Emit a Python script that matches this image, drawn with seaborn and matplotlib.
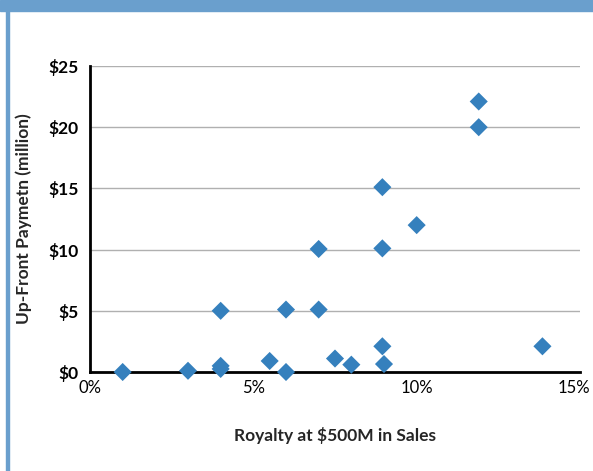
import matplotlib
matplotlib.use("Agg")
import matplotlib.pyplot as plt
import matplotlib.patches as patches
import matplotlib.transforms as mtransforms
import seaborn as sns
import pandas as pd

# royalty (%) vs up-front payment ($M)
royalty_pct = [1, 3, 4, 4, 4, 5.5, 6, 6, 7, 7, 7.5, 8, 8.95, 8.95, 8.95, 9, 10, 11.9, 11.9, 13.85]
upfront_musd = [0, 0.1, 5, 0.5, 0.25, 0.9, 5.1, 0, 10.05, 5.1, 1.1, 0.6, 15.1, 10.1, 2.1, 0.65, 12.0, 22.1, 20.0, 2.1]

y_ticks = [0, 5, 10, 15, 20, 25]
y_labels = ["$0", "$5", "$10", "$15", "$20", "$25"]
x_ticks = [0, 5, 10, 15]
x_labels = ["0%", "5%", "10%", "15%"]

df = pd.DataFrame({"royalty": royalty_pct, "upfront": upfront_musd})

sns.set_style("white")
plt.rcParams["font.family"] = ["Lato", "DejaVu Sans"]

fig = plt.figure(figsize=(5.93, 4.71), dpi=100)

# header band and left border
fig.patches.append(patches.Rectangle((0, 1 - 11 / 471), 1, 11 / 471, transform=fig.transFigure,
                                     color="#6a9fcd", zorder=0))
fig.patches.append(patches.Rectangle((6 / 593, 0), 3 / 593, 1, transform=fig.transFigure,
                                     color="#6a9fcd", zorder=0))

ax = fig.add_axes([90 / 593, 1 - 372 / 471, 490 / 593, 306 / 471])

sns.scatterplot(data=df, x="royalty", y="upfront", marker="D", s=85,
                color="#3580bd", edgecolor="none", ax=ax, zorder=3, clip_on=False)

ax.set_xlim(0, 15)
ax.set_ylim(0, 25)
ax.set_xticks(x_ticks)
ax.set_xticklabels(x_labels, fontsize=12)
ax.set_yticks(y_ticks)
ax.set_yticklabels(y_labels, fontsize=12.5, fontweight="bold")
ax.yaxis.grid(True, color="#b0b0b0", linewidth=1)
ax.set_axisbelow(True)

for s in ["top", "right"]:
    ax.spines[s].set_visible(False)
for s in ["left", "bottom"]:
    ax.spines[s].set_color("black")
    ax.spines[s].set_linewidth(2)
    ax.spines[s].set_zorder(2)

ax.tick_params(axis="both", length=5, width=1, color="#b0b0b0", colors="black")
ax.tick_params(axis="x", direction="out", pad=1)
ax.tick_params(axis="y", direction="out", pad=3)

# nudge the last x label left so it stays inside the figure
last = ax.get_xticklabels()[-1]
last.set_transform(last.get_transform() + mtransforms.ScaledTranslation(-6 / 100, 0, fig.dpi_scale_trans))

ax.set_xlabel("Royalty at $500M in Sales", fontsize=12.5, fontweight="bold", labelpad=22)
ax.set_ylabel("Up-Front Paymetn (million)", fontsize=12.5, fontweight="bold", labelpad=12)

fig.savefig("out.png", dpi=100)
